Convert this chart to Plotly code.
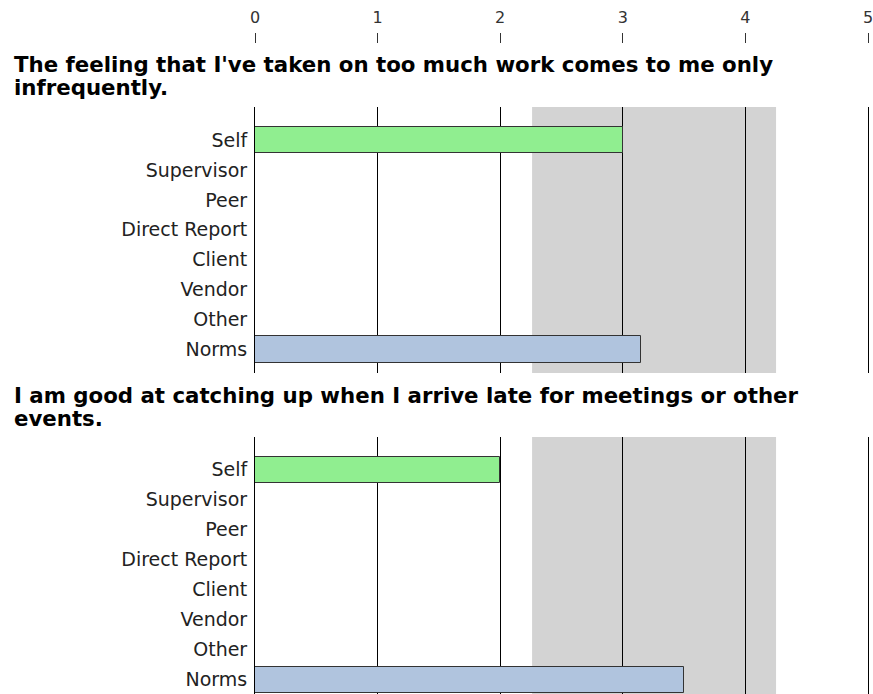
import plotly.graph_objects as go

categories = ["Self", "Supervisor", "Peer", "Direct Report", "Client", "Vendor", "Other", "Norms"]
question_lines = [
    ["The feeling that I've taken on too much work comes to me only", "infrequently."],
    ["I am good at catching up when I arrive late for meetings or other", "events."],
]
self_scores = [3.0, 2.0]
norm_scores = [3.15, 3.50]
band_low = [2.26, 2.26]
band_high = [4.25, 4.25]
tick_values = [0, 1, 2, 3, 4, 5]
tick_labels = ["0", "1", "2", "3", "4", "5"]

W, H = 873, 694
L, R = 255, 2
plot_w = W - L - R

fig = go.Figure()

label_font = dict(family="DejaVu Sans", size=19, color="#222222")

for i in range(2):
    xa = "x" if i == 0 else "x2"
    ya = "y" if i == 0 else "y2"
    fig.add_trace(go.Bar(
        y=[categories[0]], x=[self_scores[i]], orientation="h",
        marker=dict(color="#90EE90", line=dict(color="#333333", width=1)),
        width=0.87, xaxis=xa, yaxis=ya, showlegend=False, hoverinfo="skip",
    ))
    fig.add_trace(go.Bar(
        y=[categories[-1]], x=[norm_scores[i]], orientation="h",
        marker=dict(color="#B0C4DE", line=dict(color="#333333", width=1)),
        width=0.87, xaxis=xa, yaxis=ya, showlegend=False, hoverinfo="skip",
    ))
    fig.add_shape(type="rect", xref=xa, yref=ya + " domain",
                  x0=band_low[i], x1=band_high[i], y0=0, y1=1,
                  fillcolor="#D3D3D3", line=dict(width=0), layer="below")

# dummy trace for the top scale
fig.add_trace(go.Scatter(x=[0, 5], y=[categories[0], categories[0]], xaxis="x3", yaxis="y",
                         mode="markers", marker=dict(opacity=0), showlegend=False, hoverinfo="skip"))

def px_to_paper_y(p):
    return (H - p) / H

xcommon = dict(range=[0, 5], tickvals=tick_values, showticklabels=False, showgrid=True,
               gridcolor="black", gridwidth=1, zeroline=False, showline=False, ticks="",
               fixedrange=True)
ycommon = dict(type="category", categoryorder="array", categoryarray=categories,
               tickvals=categories, showgrid=False, zeroline=False, showline=True, mirror=True,
               linecolor="black", linewidth=1, ticks="", tickfont=label_font, ticklabelstandoff=3)

fig.update_layout(
    width=W, height=H,
    margin=dict(l=L, r=R, t=0, b=0),
    paper_bgcolor="white", plot_bgcolor="white",
    bargap=0,
    xaxis=dict(**xcommon, anchor="y", domain=[0, 1]),
    xaxis2=dict(**xcommon, anchor="y2", domain=[0, 1]),
    xaxis3=dict(range=[0, 5], tickvals=tick_values, ticktext=tick_labels, overlaying="x",
                anchor="free", position=px_to_paper_y(43), side="top", ticks="outside",
                ticklen=10, tickcolor="#333333", tickwidth=1, showgrid=False, zeroline=False,
                showline=False, tickfont=dict(family="DejaVu Sans", size=16, color="#333333"),
                ticklabelstandoff=4, ticklabeloverflow="allow"),
    yaxis=dict(**ycommon, anchor="x", domain=[px_to_paper_y(373), px_to_paper_y(107)],
               range=[7.785, -1.103]),
    yaxis2=dict(**ycommon, anchor="x2", domain=[0, px_to_paper_y(437)],
                range=[7.48, -1.086]),
)

title_font = dict(family="DejaVu Sans", size=21.3, color="black")
for lines, top in zip(question_lines, [49.5, 380.5]):
    for k, line in enumerate(lines):
        fig.add_annotation(text="<b>" + line + "</b>", xref="paper", yref="paper",
                           x=(11 - L) / plot_w, y=px_to_paper_y(top + 23 * k),
                           xanchor="left", yanchor="top", align="left",
                           showarrow=False, font=title_font)

fig.write_html("out.html", config={"displayModeBar": False},
               post_script="document.body.style.margin='0';")
